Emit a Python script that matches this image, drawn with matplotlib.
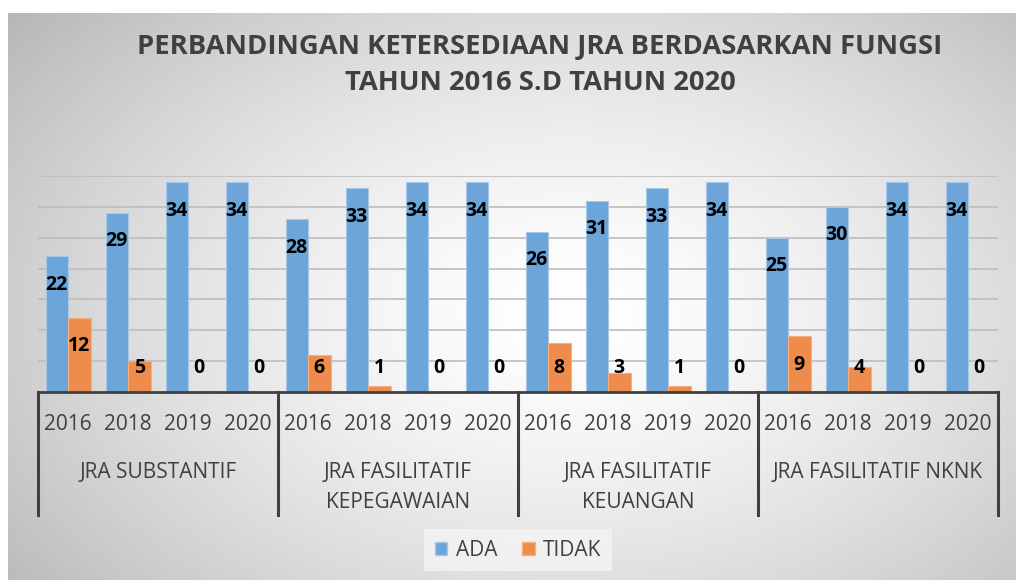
import numpy as np
import matplotlib
matplotlib.use('Agg')
import matplotlib.pyplot as plt
from matplotlib.patches import Patch
import matplotlib.transforms as mtransforms

groups = ["JRA SUBSTANTIF", "JRA FASILITATIF\nKEPEGAWAIAN", "JRA FASILITATIF\nKEUANGAN", "JRA FASILITATIF NKNK"]
years = ["2016", "2018", "2019", "2020"]
ada = [22, 29, 34, 34, 28, 33, 34, 34, 26, 31, 33, 34, 25, 30, 34, 34]
tidak = [12, 5, 0, 0, 6, 1, 0, 0, 8, 3, 1, 0, 9, 4, 0, 0]
series_names = ["ADA", "TIDAK"]
title_lines = ["PERBANDINGAN KETERSEDIAAN JRA BERDASARKAN FUNGSI", "TAHUN 2016 S.D TAHUN 2020"]

plt.rcParams['font.family'] = ['Open Sans', 'DejaVu Sans']

W, H = 1016, 580
fig = plt.figure(figsize=(W / 100, H / 100), dpi=100)

# background radial gradient
bg = fig.add_axes([8 / W, 0, 1 - 8 / W, 1 - 13 / H])
bw, bh = 1008, 567
yy, xx = np.mgrid[0:bh, 0:bw]
cx, cy = 560, 300
d = np.hypot((xx - cx) / 650.0, (yy - cy) / 420.0)
v = 1 - 0.24 * np.clip(d, 0, 1.3) ** 1.5
img = np.dstack([v, v, v])
bg.imshow(np.clip(img, 0, 1), aspect='auto', interpolation='bilinear')
bg.axis('off')

TXT = '#404040'
BLUE = '#6ba5d9'
ORANGE = '#ee8c4b'

ax = fig.add_axes([38 / W, (H - 392) / H, 960 / W, 216 / H])
ax.patch.set_alpha(0)
n = len(ada)
x = np.arange(n)
bwid = 0.375
ax.bar(x - bwid / 2, ada, width=bwid, color=BLUE, edgecolor='#a8c8ea', linewidth=0.8, zorder=3)
ax.bar(x + bwid / 2, tidak, width=bwid, color=ORANGE, edgecolor='#f4b183', linewidth=0.8, zorder=3)
ax.set_xlim(-0.5, n - 0.5)
ax.set_ylim(0, 35)
ax.set_yticks(np.arange(5, 36, 5))
ax.grid(axis='y', color='#bdbdbd', linewidth=1.2, zorder=0)
ax.tick_params(left=False, bottom=False, labelleft=False, labelbottom=False)
for s in ['left', 'right', 'top']:
    ax.spines[s].set_visible(False)
ax.spines['bottom'].set_color(TXT)
ax.spines['bottom'].set_linewidth(2)
ax.spines['bottom'].set_zorder(4)

for i in range(n):
    ax.text(x[i] - bwid / 2, max(ada[i] - 4.6, 3.9), str(ada[i]), ha='center', va='center',
            fontsize=14, fontweight='bold', color='black', zorder=5)
    ax.text(x[i] + bwid / 2, max(tidak[i] - 4.6, 3.9), str(tidak[i]), ha='center', va='center',
            fontsize=14, fontweight='bold', color='black', zorder=5)

trans = mtransforms.blended_transform_factory(ax.transData, ax.transAxes)
axh = 216.0
ng = len(groups)
for b in np.arange(ng + 1) * 4 - 0.5:
    ax.plot([b, b], [0, -123 / axh], transform=trans, clip_on=False, color=TXT, lw=2.2, zorder=4)

for i in range(n):
    ax.text(x[i], -33 / axh, years[i % 4], transform=trans, ha='center', va='center',
            fontsize=15, color=TXT)

for g in range(ng):
    for k, line in enumerate(groups[g].split('\n')):
        ax.text(4 * g + 1.5, -(80 + 30 * k) / axh, line, transform=trans, ha='center', va='center',
                fontsize=15, color=TXT)

fig.text(540 / W, 1 - 47 / H, title_lines[0], ha='center', va='center', fontsize=19.7,
         fontweight='bold', color=TXT)
fig.text(540 / W, 1 - 83 / H, title_lines[1], ha='center', va='center', fontsize=19.7,
         fontweight='bold', color=TXT)

handles = [Patch(facecolor=BLUE, edgecolor='#a8c8ea'), Patch(facecolor=ORANGE, edgecolor='#f4b183')]
leg = fig.legend(handles, series_names, loc='center', bbox_to_anchor=(518 / W, 1 - 550 / H), ncol=2,
                 frameon=True, fontsize=15, handlelength=0.6, handleheight=0.6, handletextpad=0.4,
                 columnspacing=1.2, borderpad=0.5, fancybox=False)
leg.get_frame().set_facecolor('#f4f4f4')
leg.get_frame().set_edgecolor('none')
for t in leg.get_texts():
    t.set_color(TXT)

fig.savefig('out.png', dpi=100)
